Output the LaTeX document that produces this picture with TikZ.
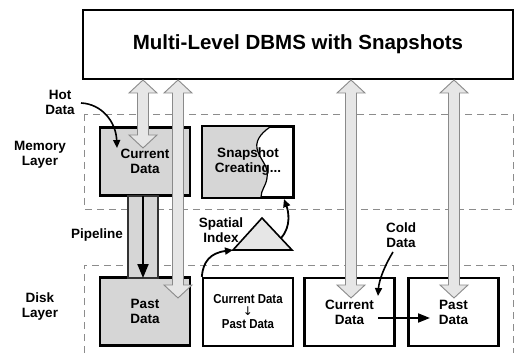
\documentclass[tikz,border=0pt]{standalone}
\usepackage{fontspec}
\setmainfont{Liberation Sans}
\usetikzlibrary{arrows.meta,calc}

\definecolor{hotfill}{HTML}{D6D6D6}
\definecolor{arrfill}{HTML}{E6E6E6}
\definecolor{arredge}{HTML}{8A8A8A}
\definecolor{dashgray}{HTML}{8C8C8C}

\tikzset{
  box/.style={draw=black, line width=2.4pt, minimum width=90pt, minimum height=68pt,
    inner sep=0pt, align=center, font=\bfseries\fontsize{13.5}{15}\selectfont},
  hot/.style={box, fill=hotfill},
  layer/.style={draw=dashgray, line width=0.9pt, dash pattern=on 7pt off 5pt},
  lbl/.style={align=center, font=\bfseries\fontsize{13.5}{15}\selectfont, inner sep=0pt},
  hollowarr/.style={draw=arredge, fill=arrfill, line width=0.9pt, line join=miter},
  blackarr/.style={draw=black, line width=2pt, -{Triangle[length=9pt,width=8pt]}},
}

% vertical hollow arrow with heads at both ends: #1 = upper tip, #2 = lower tip
\newcommand\hollowpair[2]{%
  \draw[hollowarr] (#1) -- ++(14,13) -- ++(-8.5,0) -- ($(#2)+(5.5,-13)$) -- ++(8.5,0)
    -- (#2) -- ++(-14,-13) -- ++(8.5,0) -- ($(#1)+(-5.5,13)$) -- ++(-8.5,0) -- cycle;}

\begin{document}
\begin{tikzpicture}[x=1pt, y=-1pt]
\useasboundingbox (0,0) rectangle (515,353);

% layer frames
\draw[layer] (84,114) rectangle (513,209);
\draw[layer] (84,353) -- (84,265) -- (513,265) -- (513,353);

% top system box
\node[box, minimum width=430pt, minimum height=69pt, font=\bfseries\fontsize{20.5}{22}\selectfont]
  (dbms) at (298,44.5) {Multi-Level DBMS with Snapshots};

% memory layer boxes
\node[hot] (hotcur) at (145,161.5) {Current\\Data};
\node[box, minimum height=70pt] (snap) at (248,162) {};
\fill[hotfill] (snap.north west) -- (270,127)
  .. controls (260,134) and (254,142) .. (258,152)
  .. controls (262,162) and (269,167) .. (267,178)
  .. controls (266,186) and (261,190) .. (261,197) -- (snap.south west) -- cycle;
\draw[line width=1.2pt] (270,127)
  .. controls (260,134) and (254,142) .. (258,152)
  .. controls (262,162) and (269,167) .. (267,178)
  .. controls (266,186) and (261,190) .. (261,197);
\node[lbl] (snaptxt) at (248,162) {Snapshot\\Creating...};
\draw[line width=2.4pt] (snap.north west) rectangle (snap.south east);

% disk layer boxes
\node[hot] (hotpast) at (145,311.5) {Past\\Data};
\node[box] (conv) at (248,312) {};
\node[align=center, inner sep=0pt, font=\bfseries\fontsize{13}{14}\selectfont] (convtxt) at (248,312)
  {\scalebox{0.88}[1]{Current Data}\\[-2pt]{\fontspec{DejaVu Sans}\mdseries\fontsize{12}{12}\selectfont ↓}\\[-1pt]\scalebox{0.88}[1]{Past Data}};
\node[box] (coldcur) at (349.5,312) {Current\\Data};
\node[box] (coldpast) at (453.5,312) {Past\\Data};

% pipeline between hot current data and hot past data
\draw[fill=hotfill, draw=black!80, line width=1.1pt] (128,196) rectangle (158,278);
\coordinate (pipetop) at (143,196.5);
\coordinate (pipebot) at (143,278);
\draw[blackarr, -{Triangle[length=14pt,width=11pt]}] (pipetop) -- (pipebot);

% hollow transfer arrows between the DBMS and the data stores
\coordinate (a1t) at (143,80);  \coordinate (a1b) at (143,148);
\coordinate (a2t) at (178,80);  \coordinate (a2b) at (178,298);
\coordinate (a3t) at (351,80);  \coordinate (a3b) at (351,298);
\coordinate (a4t) at (454,80);  \coordinate (a4b) at (454,298);
\hollowpair{a1t}{a1b}
\hollowpair{a2t}{a2b}
\hollowpair{a3t}{a3b}
\hollowpair{a4t}{a4b}

% spatial index
\filldraw[fill=arrfill, draw=black, line width=1.6pt, line join=miter]
  (262,218) coordinate (triapex) -- (292,250) coordinate (triright) -- (233,250) coordinate (trileft) -- cycle;
\node[lbl] (spatial) at (221,230) {Spatial\\Index};
\draw[line width=1.8pt, -{Triangle[length=8pt,width=7pt]}]
  (conv.north west) .. controls (203,262) and (210,253) .. (trileft);
\coordinate (trimid) at (281,238);
\draw[line width=1.8pt, -{Triangle[length=8pt,width=7pt]}]
  (trimid) .. controls (292,226) and (288,210) .. (284,199);

% side labels
\node[lbl] (memlbl) at (40,155) {Memory\\Layer};
\node[lbl] (disklbl) at (40,307) {Disk\\Layer};
\node[lbl] (pipelbl) at (97,235) {Pipeline};
\node[lbl] (hotlbl) at (60,102) {Hot\\Data};
\node[lbl] (coldlbl) at (401,235) {Cold\\Data};

% annotation arrows
\draw[line width=1.6pt, -{Triangle[length=8pt,width=7pt]}]
  (81,103) .. controls (102,104) and (116,122) .. (117,148);
\draw[line width=1.6pt, -{Triangle[length=8pt,width=7pt]}]
  (393,252) .. controls (385,265) and (379,280) .. (378,296);
\coordinate (cstart) at (378,318);
\coordinate (cend) at (430,318);
\draw[blackarr, -{Triangle[length=12pt,width=9pt]}] (cstart) -- (cend);
\end{tikzpicture}
\end{document}
